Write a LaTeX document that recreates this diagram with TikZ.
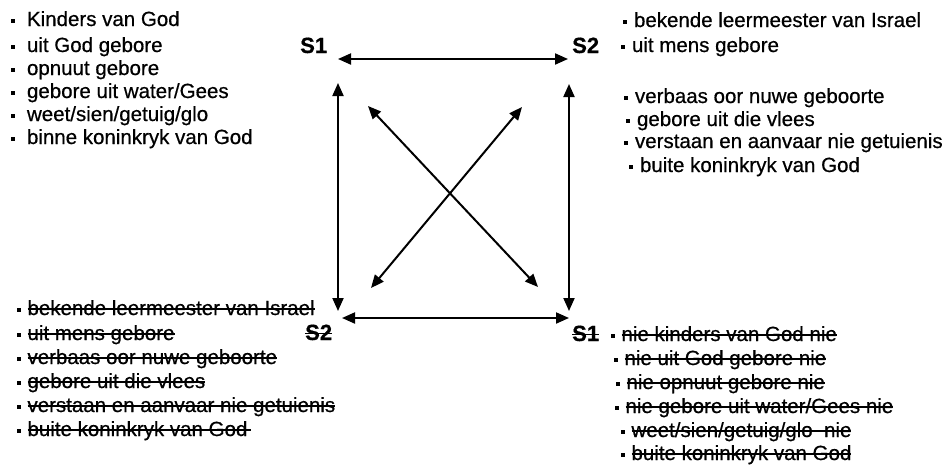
\documentclass[tikz,border=0pt]{standalone}
\usepackage{fontspec}
\setmainfont{Liberation Sans}[RawFeature={embolden=0.6}]
\usetikzlibrary{arrows.meta}
\newcommand\bul[1][7pt]{\rule[0.17em]{3.8pt}{3.8pt}\hspace{#1}}
\newcommand\strk[2][0pt]{\setbox0\hbox{#2}\rlap{\rule[0.26em]{\dimexpr\wd0+#1\relax}{1.6pt}}\box0}
\tikzset{
  item/.style={anchor=base west,inner sep=0pt,font=\fontsize{20.5pt}{24pt}\selectfont},
  slabel/.style={anchor=base west,inner sep=0pt,font=\fontsize{22pt}{26pt}\selectfont\bfseries},
  link/.style={line width=2pt,{Triangle[length=13pt,width=11pt]}-{Triangle[length=13pt,width=11pt]}}
}
\begin{document}
\begin{tikzpicture}[x=1pt,y=-1pt]
\useasboundingbox (0,0) rectangle (951,466);
% top-left list
\node[item] (tl1) at (11,26) {\bul[12pt]Kinders van God};
\node[item] (tl2) at (11,52) {\bul[12pt]uit God gebore};
\node[item] (tl3) at (11,75) {\bul[12pt]opnuut gebore};
\node[item] (tl4) at (11,98) {\bul[12pt]gebore uit water/Gees};
\node[item] (tl5) at (11,121) {\bul[12pt]weet/sien/getuig/glo};
\node[item] (tl6) at (11,144) {\bul[12pt]binne koninkryk van God};
% top-right list
\node[item] (tr1) at (623,27) {\bul bekende leermeester van Israel};
\node[item] (tr2) at (621,52) {\bul uit mens gebore};
\node[item] (tr3) at (624,103) {\bul verbaas oor nuwe geboorte};
\node[item] (tr4) at (626,126) {\bul gebore uit die vlees};
\node[item] (tr5) at (624,148) {\bul verstaan en aanvaar nie getuienis};
\node[item] (tr6) at (629,172) {\bul buite koninkryk van God};
% bottom-left list
\node[item] (bl1) at (17,315) {\bul[6.5pt]\strk{bekende leermeester van Israel}};
\node[item] (bl2) at (17,340) {\bul[6.5pt]\strk{uit mens gebore}};
\node[item] (bl3) at (17,364) {\bul[6.5pt]\strk{verbaas oor nuwe geboorte}};
\node[item] (bl4) at (17,388) {\bul[6.5pt]\strk{gebore uit die vlees}};
\node[item] (bl5) at (17,412) {\bul[6.5pt]\strk{verstaan en aanvaar nie getuienis}};
\node[item] (bl6) at (17,436) {\bul[6.5pt]\strk[4pt]{buite koninkryk van God}};
% bottom-right list
\node[item] (br1) at (611,341) {\bul[6.5pt]\strk{nie kinders van God nie}};
\node[item] (br2) at (614,365) {\bul[6.5pt]\strk{nie uit God gebore nie}};
\node[item] (br3) at (616,389) {\bul[6.5pt]\strk{nie opnuut gebore nie}};
\node[item] (br4) at (615,413) {\bul[6.5pt]\strk{nie gebore uit water/Gees nie}};
\node[item] (br5) at (621,437) {\bul[6.5pt]\strk{weet/sien/getuig/glo\ \ nie}};
\node[item] (br6) at (621,460) {\bul[6.5pt]\strk{buite koninkryk van God}};
% corner labels
\node[slabel] (s1a) at (300,53) {S1};
\node[slabel] (s2a) at (572,53) {S2};
\node[slabel] (s2b) at (305,340) {\strk{S2}};
\node[slabel] (s1b) at (572,341) {\strk{S1}};
% arrow end points
\coordinate (th1) at (338,59);  \coordinate (th2) at (568,59);
\coordinate (bh1) at (342,318); \coordinate (bh2) at (569,318);
\coordinate (lv1) at (338,83);  \coordinate (lv2) at (338,311);
\coordinate (rv1) at (569,84);  \coordinate (rv2) at (569,311);
\coordinate (d1a) at (368,106); \coordinate (d1b) at (538,287);
\coordinate (d2a) at (522,107); \coordinate (d2b) at (371,288);
\draw[link] (th1) -- (th2);
\draw[link] (bh1) -- (bh2);
\draw[link] (lv1) -- (lv2);
\draw[link] (rv1) -- (rv2);
\draw[link] (d1a) -- (d1b);
\draw[link] (d2a) -- (d2b);
\end{tikzpicture}
\end{document}
